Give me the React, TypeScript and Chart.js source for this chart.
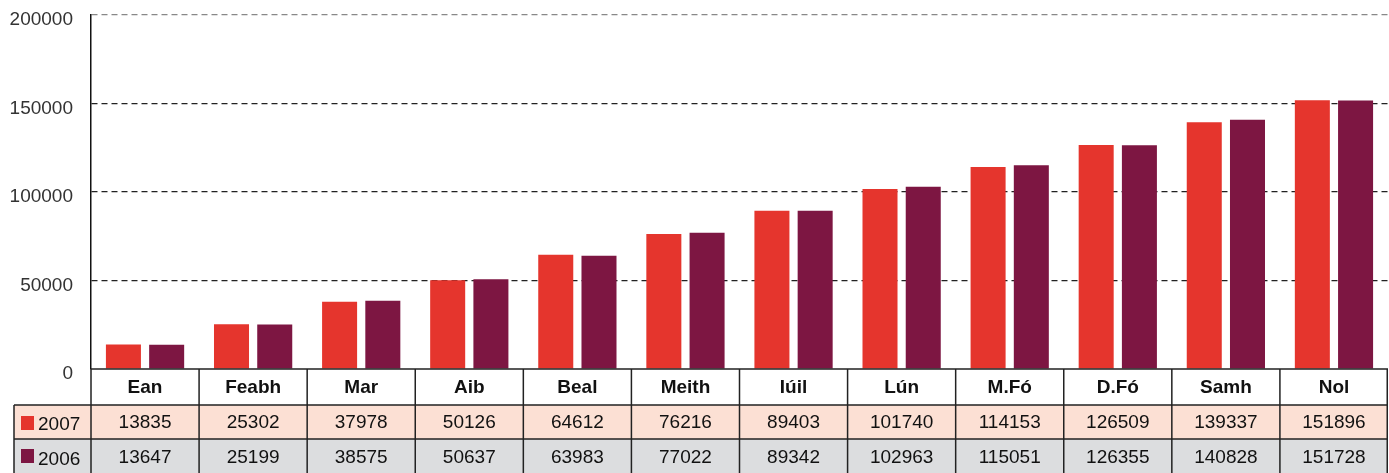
import React, { useEffect, useRef } from "react";
import { Chart, registerables } from "chart.js";

Chart.register(...registerables);

const categories = ["Ean", "Feabh", "Mar", "Aib", "Beal", "Meith", "Iúil", "Lún", "M.Fó", "D.Fó", "Samh", "Nol"];
const series2007 = [13835, 25302, 37978, 50126, 64612, 76216, 89403, 101740, 114153, 126509, 139337, 151896];
const series2006 = [13647, 25199, 38575, 50637, 63983, 77022, 89342, 102963, 115051, 126355, 140828, 151728];
const seriesLabels = ["2007", "2006"];
const yTicks = [0, 50000, 100000, 150000, 200000];

const RED = "#e5352d";
const PURPLE = "#7d1642";
const FONT = "'Liberation Sans', Arial, sans-serif";

const tablePlugin = {
  id: "dataTable",
  afterDraw(chart: any) {
    const ctx = chart.ctx;
    const area = chart.chartArea;
    const x = chart.scales.x;
    const left = area.left;
    const right = area.right;
    const top = area.bottom;
    const hH = 36;
    const rH = 34;
    const r1 = top + hH;
    const r2 = r1 + rH;
    const r3 = r2 + rH + 1;
    const labelLeft = 14;
    ctx.save();
    ctx.fillStyle = "#ffffff";
    ctx.fillRect(left, top, right - left, hH);
    ctx.fillStyle = "#fce0d4";
    ctx.fillRect(labelLeft, r1, right - labelLeft, rH);
    ctx.fillStyle = "#dcdddf";
    ctx.fillRect(labelLeft, r2, right - labelLeft, r3 - r2);
    ctx.strokeStyle = "#222";
    ctx.lineWidth = 1.5;
    ctx.setLineDash([]);
    ctx.beginPath();
    ctx.moveTo(left, top);
    ctx.lineTo(right, top);
    ctx.moveTo(labelLeft, r1);
    ctx.lineTo(right, r1);
    ctx.moveTo(labelLeft, r2);
    ctx.lineTo(right, r2);
    ctx.moveTo(labelLeft, r1);
    ctx.lineTo(labelLeft, r3);
    ctx.moveTo(left, top);
    ctx.lineTo(left, r3);
    const n = categories.length;
    const w = (right - left) / n;
    for (let i = 1; i <= n; i++) {
      const xx = i === n ? right - 0.75 : left + w * i;
      ctx.moveTo(xx, top);
      ctx.lineTo(xx, r3);
    }
    ctx.stroke();
    ctx.textAlign = "center";
    ctx.textBaseline = "middle";
    ctx.fillStyle = "#111";
    categories.forEach((c, i) => {
      const cx = x.getPixelForValue(i);
      ctx.font = `bold 19px ${FONT}`;
      ctx.fillText(c, cx, top + hH / 2 + 1);
      ctx.font = `19px ${FONT}`;
      ctx.fillText(String(series2007[i]), cx, r1 + rH / 2 + 1);
      ctx.fillText(String(series2006[i]), cx, r2 + rH / 2 + 2);
    });
    ctx.textAlign = "left";
    ctx.font = `19px ${FONT}`;
    ctx.fillStyle = RED;
    ctx.fillRect(21, r1 + 11, 13, 14);
    ctx.fillStyle = PURPLE;
    ctx.fillRect(21, r2 + 10, 13, 14);
    ctx.fillStyle = "#111";
    ctx.fillText(seriesLabels[0], 38, r1 + rH / 2 + 3);
    ctx.fillText(seriesLabels[1], 38, r2 + rH / 2 + 4);
    ctx.restore();
  },
};

export default function App() {
  const ref = useRef<HTMLCanvasElement>(null);
  useEffect(() => {
    if (!ref.current) return;
    const chart = new Chart(ref.current, {
      type: "bar",
      data: {
        labels: categories,
        datasets: [
          { label: seriesLabels[0], data: series2007, backgroundColor: RED, categoryPercentage: 0.8, barPercentage: 0.81 },
          { label: seriesLabels[1], data: series2006, backgroundColor: PURPLE, categoryPercentage: 0.8, barPercentage: 0.81 },
        ],
      },
      options: {
        animation: false,
        responsive: false,
        maintainAspectRatio: false,
        layout: { padding: { top: 15, bottom: 104, left: 0, right: 1 } },
        plugins: { legend: { display: false }, tooltip: { enabled: false } },
        scales: {
          x: { display: false },
          y: {
            min: 0,
            max: 200000,
            afterFit: (axis: any) => {
              axis.width = 91;
              axis.paddingTop = 0;
              axis.paddingBottom = 0;
            },
            afterBuildTicks: (axis: any) => { axis.ticks = yTicks.map((v) => ({ value: v })); },
            ticks: {
              padding: 18,
              labelOffset: 5,
              color: "#333",
              font: { family: FONT, size: 19 },
              callback: (v: any) => String(v),
            },
            border: { display: true, color: "#111", width: 1.5, dash: [6, 4] },
            grid: {
              drawTicks: false,
              lineWidth: 1.2,
              color: (c: any) => (c.tick && c.tick.value === 0 ? "rgba(0,0,0,0)" : c.tick && c.tick.value === 200000 ? "#888" : "#222"),
            },
          },
        },
      },
      plugins: [tablePlugin],
    } as any);
    return () => chart.destroy();
  }, []);
  return (
    <div style={{ position: "fixed", left: 0, top: 0, width: 1389, height: 473, background: "#fff" }}>
      <canvas ref={ref} width={1389} height={473} style={{ display: "block" }} />
    </div>
  );
}
